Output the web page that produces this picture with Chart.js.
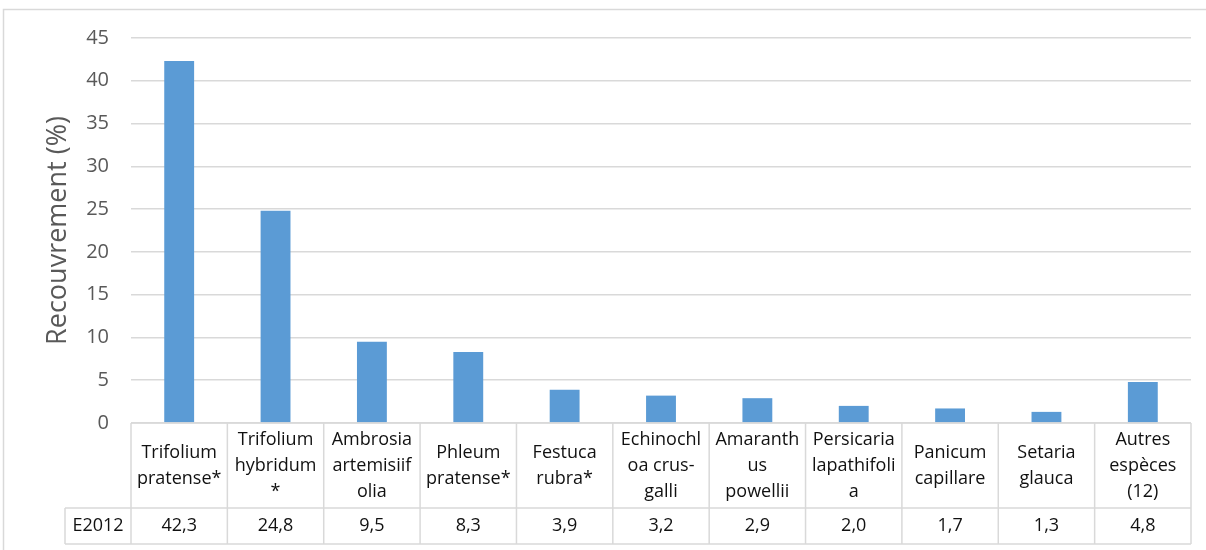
<!DOCTYPE html>
<html>
<head>
  <meta charset="utf-8" />
  <title>Recouvrement E2012</title>
  <script src="https://cdn.jsdelivr.net/npm/chart.js"></script>
  <style>
    html, body { margin: 0; padding: 0; background: #fff; }
    #wrap { width: 1206px; height: 550px; position: relative; }
  </style>
</head>
<body>
<div id="wrap"><canvas id="myChart"></canvas></div>
<script>
  // species names, split the way the table cells wrap them
  const species = [
    ['Trifolium', 'pratense*'],
    ['Trifolium', 'hybridum', '*'],
    ['Ambrosia', 'artemisiif', 'olia'],
    ['Phleum', 'pratense*'],
    ['Festuca', 'rubra*'],
    ['Echinochl', 'oa crus-', 'galli'],
    ['Amaranth', 'us', 'powellii'],
    ['Persicaria', 'lapathifoli', 'a'],
    ['Panicum', 'capillare'],
    ['Setaria', 'glauca'],
    ['Autres', 'espèces', '(12)']
  ];
  const seriesName = 'E2012';
  const cover = [42.3, 24.8, 9.5, 8.3, 3.9, 3.2, 2.9, 2.0, 1.7, 1.3, 4.8];

  const grey = '#d9d9d9';
  const fontFam = "'Open Sans', 'DejaVu Sans', sans-serif";

  // draws the data table under the plot + the outer frame
  const tablePlugin = {
    id: 'dataTable',
    afterDraw(chart) {
      const ctx = chart.ctx;
      const x = chart.scales.x;
      const area = chart.chartArea;
      const top = area.bottom;
      const mid = top + 85;
      const bot = mid + 36;
      const step = (area.right - area.left) / species.length;
      const keyLeft = area.left - 66;

      ctx.save();
      ctx.strokeStyle = grey;
      ctx.lineWidth = 1.5;
      ctx.beginPath();
      // outer frame
      ctx.moveTo(3.5, 550); ctx.lineTo(3.5, 9.5); ctx.lineTo(1206, 9.5);
      // table rows
      ctx.moveTo(area.left, top); ctx.lineTo(area.right, top);
      ctx.moveTo(keyLeft, mid); ctx.lineTo(area.right, mid);
      ctx.moveTo(keyLeft, bot); ctx.lineTo(area.right, bot);
      ctx.moveTo(keyLeft, mid); ctx.lineTo(keyLeft, bot);
      for (let i = 0; i <= species.length; i++) {
        const px = area.left + i * step;
        ctx.moveTo(px, top); ctx.lineTo(px, bot);
      }
      ctx.stroke();

      ctx.fillStyle = '#111';
      ctx.font = '18px ' + fontFam;
      ctx.textAlign = 'center';
      ctx.textBaseline = 'middle';
      const lh = 26;
      species.forEach((lines, i) => {
        const cx = x.getPixelForValue(i);
        const y0 = (top + mid) / 2 - (lines.length - 1) * lh / 2;
        lines.forEach((t, j) => ctx.fillText(t, cx, y0 + j * lh));
        ctx.fillText(cover[i].toFixed(1).replace('.', ','), cx, (mid + bot) / 2);
      });
      ctx.fillText(seriesName, (keyLeft + area.left) / 2, (mid + bot) / 2);
      ctx.restore();
    }
  };

  new Chart(document.getElementById('myChart'), {
    type: 'bar',
    data: {
      labels: species.map(s => s.join(' ')),
      datasets: [{
        label: seriesName,
        data: cover,
        backgroundColor: '#5b9bd5',
        barPercentage: 0.31,
        categoryPercentage: 1
      }]
    },
    options: {
      responsive: true,
      maintainAspectRatio: false,
      animation: false,
      layout: { padding: { top: 38, right: 15, bottom: 127, left: 0 } },
      plugins: {
        legend: { display: false },
        tooltip: { enabled: false }
      },
      scales: {
        x: { display: false },
        y: {
          min: 0,
          max: 45,
          ticks: { stepSize: 5, color: '#595959', padding: 22, font: { size: 20, family: fontFam } },
          grid: { color: grey, lineWidth: 1.5, drawTicks: false },
          border: { display: false },
          title: {
            display: true,
            text: 'Recouvrement (%)',
            color: '#595959',
            font: { size: 27, family: fontFam },
            padding: { top: 42, bottom: 0 }
          },
          afterFit(scale) { scale.width = 131; }
        }
      }
    },
    plugins: [tablePlugin]
  });
</script>
</body>
</html>
